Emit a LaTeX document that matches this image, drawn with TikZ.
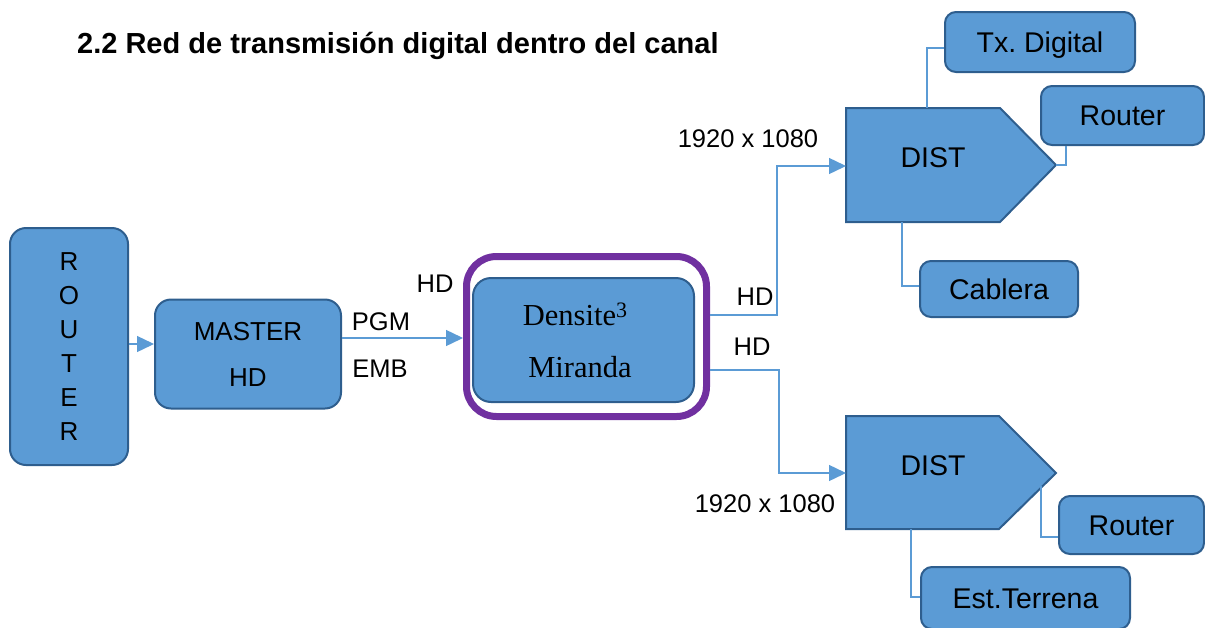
\documentclass[tikz,border=0pt]{standalone}
\usepackage{fontspec}
\setmainfont{Liberation Sans}
\newfontfamily\seriffont{Liberation Serif}
\usetikzlibrary{arrows.meta}
\definecolor{boxfill}{HTML}{5B9BD5}
\definecolor{boxline}{HTML}{2E5E8E}
\definecolor{connc}{HTML}{5B9BD5}
\definecolor{purp}{HTML}{7030A0}
\tikzset{
  box/.style={draw=boxline, fill=boxfill, line width=2pt, rounded corners=11pt,
    inner sep=0pt, font=\fontsize{28.5}{34}\selectfont, text height=20.4pt, text depth=0pt},
  conn/.style={draw=connc, line width=1.4pt},
  arr/.style={conn, -{Triangle[length=17pt,width=16pt]}},
  lbl/.style={anchor=base, inner sep=0pt, font=\fontsize{25.5}{30}\selectfont},
  distshape/.style={draw=boxline, fill=boxfill, line width=2pt, line join=miter},
}
\begin{document}
\begin{tikzpicture}[x=1pt,y=-1pt]
\useasboundingbox (0,0) rectangle (1205,627);
% title
\node[anchor=base west, inner sep=0pt, font=\fontsize{29}{34}\bfseries\selectfont] (title) at (77,53) {2.2 Red de transmisión digital dentro del canal};

% ROUTER
\node[box, rounded corners=16pt, minimum width=118pt, minimum height=237pt, text height=, text depth=, align=center,
  font=\fontsize{26}{34}\selectfont] (router) at (69,346.5) {R\\O\\U\\T\\E\\R};
% MASTER HD
\node[box, rounded corners=16pt, minimum width=186pt, minimum height=109pt, text height=, text depth=, align=center,
  font=\fontsize{26}{46}\selectfont] (master) at (248,354) {MASTER\\HD};
% frame
\node[draw=purp, line width=7pt, rounded corners=30pt, minimum width=240pt, minimum height=160pt, inner sep=0pt] (frame) at (586.5,336.5) {};
% Densite
\node[box, rounded corners=18pt, minimum width=221pt, minimum height=124pt, text height=, text depth=, align=center,
  font=\seriffont\fontsize{30.5}{52}\selectfont] (dens) at (583.5,340) {Densite{\fontsize{22}{22}\selectfont\raisebox{8pt}{3}}\hspace*{17pt}\\Miranda\hspace*{7pt}};

% DIST 1
\coordinate (d1a) at (846,108);
\coordinate (d1b) at (1000,108);
\coordinate (d1tip) at (1056,165);
\coordinate (d1c) at (1000,222);
\coordinate (d1d) at (846,222);
\draw[distshape] (d1a) -- (d1b) -- (d1tip) -- (d1c) -- (d1d) -- cycle;
\node[lbl, font=\fontsize{28.5}{34}\selectfont] (dist1) at (933,167) {DIST};
% DIST 2
\coordinate (d2a) at (846,416);
\coordinate (d2b) at (999,416);
\coordinate (d2tip) at (1056,473);
\coordinate (d2c) at (999,529);
\coordinate (d2d) at (846,529);
\draw[distshape] (d2a) -- (d2b) -- (d2tip) -- (d2c) -- (d2d) -- cycle;
\node[lbl, font=\fontsize{28.5}{34}\selectfont] (dist2) at (933,475) {DIST};

% output boxes
\node[box, minimum width=190pt, minimum height=60pt] (tx) at (1040,42) {Tx.\ Digital};
\node[box, minimum width=163pt, minimum height=59pt] (rt1) at (1122.5,115.5) {Router};
\node[box, minimum width=158pt, minimum height=56pt] (cab) at (999,289) {Cablera};
\node[box, minimum width=145pt, minimum height=58pt] (rt2) at (1131.5,525) {Router};
\node[box, minimum width=209pt, minimum height=62pt] (est) at (1025.5,598) {Est.Terrena};

% connectors
\coordinate (ra) at (0,344);
\draw[arr] (router.east|-ra) -- (master.west|-ra);
\coordinate (ma) at (0,338);
\draw[arr] (master.east|-ma) -- (frame.west|-ma);
\coordinate (o1) at (777,315);
\coordinate (i1) at (777,166);
\draw[arr] (frame.east|-o1) -- (o1) -- (i1) -- (d1a|-i1);
\coordinate (o2) at (779,370);
\coordinate (i2) at (779,473);
\draw[arr] (frame.east|-o2) -- (o2) -- (i2) -- (d2a|-i2);

\coordinate (t1) at (927,108);
\coordinate (t2) at (927,48);
\draw[conn] (t1) -- (t2) -- (tx.west|-t2);
\coordinate (r1) at (1066,165);
\draw[conn] (d1tip) -- (r1) -- (rt1.south-|r1);
\coordinate (c1) at (902,222);
\coordinate (c2) at (902,286);
\draw[conn] (c1) -- (c2) -- (cab.west|-c2);
\coordinate (s1) at (1041,486);
\coordinate (s2) at (1041,537);
\draw[conn] (s1) -- (s2) -- (rt2.west|-s2);
\coordinate (e1) at (911,529);
\coordinate (e2) at (911,597);
\draw[conn] (e1) -- (e2) -- (est.west|-e2);

% labels
\node[lbl] (l1920a) at (748,147) {1920 x 1080};
\node[lbl] (l1920b) at (765,512) {1920 x 1080};
\node[lbl] (lhd1) at (755,305) {HD};
\node[lbl] (lhd2) at (752,355) {HD};
\node[lbl] (lhd0) at (435,292) {HD};
\node[lbl] (lpgm) at (381,330) {PGM};
\node[lbl] (lemb) at (380,377) {EMB};
\end{tikzpicture}
\end{document}
